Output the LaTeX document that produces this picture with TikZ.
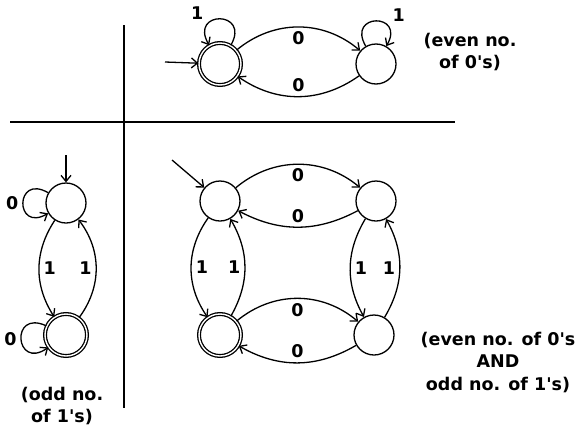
\documentclass[tikz,border=0pt]{standalone}
\usepackage{fontspec}
\setmainfont{DejaVu Sans}
\usetikzlibrary{arrows.meta}

\tikzset{
	state/.style={draw, circle, minimum size=40pt, inner sep=0pt},
	accept/.style={state, double, double distance=1.4pt, minimum size=42pt},
	lbl/.style={font=\fontsize{17.5}{22.5}\selectfont\bfseries, inner sep=4pt},
	every loop/.style={looseness=4.8, min distance=0pt}
}

\begin{document}
\begin{tikzpicture}[x=1pt, y=-1pt, line width=1.3pt, >={Straight Barb[length=6pt, width=10pt]}]
	\useasboundingbox (0,0) rectangle (581,426);

	% quadrants
	\draw (124,25) -- (124,408);
	\draw (10,122) -- (455,122);

	% even number of 0's
	\node[accept] (a0) at (220,64) {};
	\node[state] (a1) at (376,64) {};
	\coordinate (a0start) at (165,62);
	\path[->] (a0start) edge (a0);
	\path[->] (a0) edge[out=60, in=120, loop] node[lbl, left=12pt, yshift=6pt] {1} ();
	\path[->] (a1) edge[out=120, in=60, loop] node[lbl, right=12pt, yshift=6pt] {1} ();
	\path[->] (a0) edge[bend left=40] node[lbl, auto=right] {0} (a1);
	\path[->] (a1) edge[bend left=35] node[lbl, auto=right] {0} (a0);
	\node[lbl, align=center] (a_txt) at (470,52) {(even no.\\of 0\textquotesingle s)};

	% odd number of 1's
	\node[state] (b0) at (66,203) {};
	\node[accept] (b1) at (66,335) {};
	\coordinate (b0start) at (66,155);
	\path[->] (b0start) edge (b0);
	\path[->] (b0) edge[out=150, in=210, loop] node[lbl, left] {0} ();
	\path[->] (b1) edge[out=155, in=215, loop] node[lbl, left] {0} ();
	\path[->] (b0) edge[bend right=33] node[lbl, auto] {1} (b1);
	\path[->] (b1) edge[bend right=37] node[lbl, auto] {1} (b0);
	\node[lbl, align=center] (b_txt) at (62,406) {(odd no.\\of 1\textquotesingle s)};

	% product of both
	\node[state] (ee) at (220,201) {};
	\node[state] (oe) at (376,201) {};
	\node[accept] (eo) at (220,335) {};
	\node[state] (oo) at (374,335) {};
	\coordinate (eestart) at (172,160);
	\path[->] (eestart) edge (ee);
	\path[->] (ee) edge[bend left=40] node[lbl, auto=right] {0} (oe);
	\path[->] (oe) edge[bend left=28] node[lbl, auto=right] {0} (ee);
	\path[->] (eo) edge[bend left=40] node[lbl, auto=right] {0} (oo);
	\path[->] (oo) edge[bend left=30] node[lbl, auto=right] {0} (eo);
	\path[->] (ee) edge[bend right=35] node[lbl, auto] {1} (eo);
	\path[->] (eo) edge[bend right=30] node[lbl, auto] {1} (ee);
	\path[->] (oe) edge[bend right=30] node[lbl, auto] {1} (oo);
	\path[->] (oo) edge[bend right=30] node[lbl, auto] {1} (oe);
	\node[lbl, align=center] (c_txt) at (498,362) {(even no. of 0\textquotesingle s\\AND\\odd no. of 1\textquotesingle s)};
\end{tikzpicture}
\end{document}
